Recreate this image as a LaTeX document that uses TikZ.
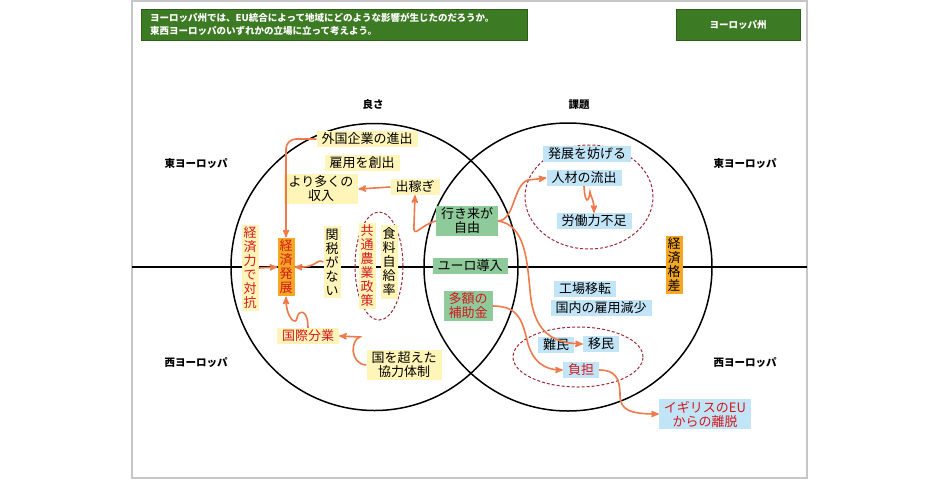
\documentclass[tikz,border=0pt]{standalone}
\usepackage{fontspec}
\setmainfont{Noto Sans CJK JP}
\usetikzlibrary{shapes}
\usetikzlibrary{arrows}
\definecolor{hdgreen}{HTML}{3C7A23}
\definecolor{hdedge}{HTML}{2C5E18}
\definecolor{fyel}{HTML}{FFF5B8}
\definecolor{fblu}{HTML}{C2E4F7}
\definecolor{fgrn}{HTML}{8FCA9B}
\definecolor{fora}{HTML}{F5A623}
\definecolor{tred}{HTML}{D2191E}
\definecolor{aora}{HTML}{EE7A4C}
\definecolor{dred}{HTML}{9E2A35}
\tikzset{
	box/.style = {align=center, inner xsep=5pt, inner ysep=2pt,
		font=\fontsize{13}{14}\selectfont},
	box_y/.style = {box, fill=fyel},% jaune, bons cotes
	box_b/.style = {box, fill=fblu},% bleu, problemes
	box_g/.style = {box, fill=fgrn},% vert, commun
	box_o/.style = {box, fill=fora},% orange
	box_v/.style = {inner xsep=2pt, inner ysep=2.5pt},% texte vertical
	txt_r/.style = {text=tred},
	lbl/.style = {font=\fontsize{10.5}{12}\selectfont\bfseries},
	hd/.style = {fill=hdgreen, draw=hdedge, text=white,
		font=\fontsize{9.5}{13}\selectfont\bfseries},
	arr_o/.style = {->, draw=aora, line width=1.6pt},
	dash_e/.style = {ellipse, draw=dred, densely dashed, line width=1pt,
		inner sep=0pt}
}
\begin{document}
\begin{tikzpicture}[>=stealth', x=1pt, y=-1pt]
	\useasboundingbox (0,0) rectangle (940,480);
	\draw[gray!45, line width=1.5pt] (132,1) rectangle (807,478);
	% en-tete
	\node[hd, anchor=north west, minimum width=386pt, minimum height=31pt,
		align=left, text width=368pt] (quest) at (141,9)
		{ヨーロッパ州では、EU統合によって地域にどのような影響が生じたのだろうか。\\
		東西ヨーロッパのいずれかの立場に立って考えよう。};
	\node[hd, minimum width=124pt, minimum height=31pt] (area) at (738,24.5) {ヨーロッパ州};
	% cercles
	\draw[line width=1.3pt] (132,267) -- (807,267);
	\node[circle, draw, line width=1.5pt, minimum size=287pt] (good) at (374.5,267) {};
	\node[circle, draw, line width=1.5pt, minimum size=288pt] (issue) at (568,267) {};
	\node[lbl] (l_good) at (373,105) {良さ};
	\node[lbl] (l_issue) at (579,105) {課題};
	\node[lbl] (e_left) at (196,164) {東ヨーロッパ};
	\node[lbl] (w_left) at (196,363) {西ヨーロッパ};
	\node[lbl] (e_right) at (745,164) {東ヨーロッパ};
	\node[lbl] (w_right) at (745,363) {西ヨーロッパ};
	\node[dash_e, minimum width=48pt, minimum height=108pt] (ring_a) at (379,266) {};
	\node[dash_e, minimum width=128pt, minimum height=104pt] (ring_b) at (589,197) {};
	\node[dash_e, minimum width=130pt, minimum height=60pt] (ring_c) at (578,357) {};
	% bons cotes
	\node[box_y] (gaikoku) at (367,139) {外国企業の進出};
	\node[box_y] (koyo) at (362,163) {雇用を創出};
	\node[box_y] (shunyu) at (321,189) {より多くの\\収入};
	\node[box_y] (dekasegi) at (415,187) {出稼ぎ};
	\node[box_y, box_v, txt_r] (taiko) at (250,268) {経\\済\\力\\で\\対\\抗};
	\node[box_o, box_v, txt_r] (hatten) at (286,267) {経\\済\\発\\展};
	\node[box_y, box_v] (kanzei) at (332,262) {関\\税\\が\\な\\い};
	\node[box_y, box_v, txt_r] (kyotsu) at (367,266) {共\\通\\農\\業\\政\\策};
	\node[box_y, box_v] (jikyu) at (389,262) {食\\料\\自\\給\\率};
	\node[box_y, txt_r] (kokusai) at (308,336) {国際分業};
	\node[box_y] (kokkyo) at (404,365) {国を超えた\\協力体制};
	% commun
	\node[box_g] (ikiki) at (467,221) {行き来が\\自由};
	\node[box_g] (euro) at (470,266) {ユーロ導入};
	\node[box_g, txt_r] (hojo) at (468,306) {多額の\\補助金};
	% problemes
	\node[box_b] (bougai) at (587,154) {発展を妨げる};
	\node[box_b] (jinzai) at (584,178) {人材の流出};
	\node[box_b] (rodo) at (594,221) {労働力不足};
	\node[box_b] (kojo) at (585,289) {工場移転};
	\node[box_b] (koyogen) at (601,308) {国内の雇用減少};
	\node[box_b] (nanmin) at (556,345) {難民};
	\node[box_b] (imin) at (601,344) {移民};
	\node[box_b, txt_r] (futan) at (581,370) {負担};
	\node[box_b, txt_r] (igirisu) at (705,414) {イギリスのEU\\からの離脱};
	\node[box_o, box_v] (kakusa) at (674,265) {経\\済\\格\\差};
	% fleches
	\draw[arr_o, rounded corners=10pt] (gaikoku.west) -| (hatten.north);
	\draw[arr_o] (dekasegi.west) -- (shunyu.east);
	\draw[arr_o] (taiko.east) -- (hatten.west);
	\draw[arr_o] (kanzei.west) .. controls (316,258) and (318,268) .. (hatten.east);
	\draw[arr_o] (kokusai.north) .. controls (308,308) and (298,310) .. (297,318)
		.. controls (296,326) and (286,318) .. (hatten.south);
	\draw[arr_o] (kokkyo.west) .. controls (350,364) and (350,340) .. (360,337) -- (kokusai.east);
	\draw[arr_o] (ikiki.west) .. controls (420,225) and (413,240) .. (414,225) -- (dekasegi.south);
	\draw[arr_o] (ikiki.east) .. controls (515,220) and (513,185) .. (528,180) -- (jinzai.west);
	\draw[arr_o] (ikiki.east) .. controls (525,225) and (527,260) .. (530,290)
		.. controls (533,330) and (550,343) .. (imin.west);
	\draw[arr_o] (jinzai.south) .. controls (585,205) and (589,202) .. (590,192)
		.. controls (592,200) and (594,200) .. (rodo.north);
	\draw[arr_o] (hojo.east) .. controls (518,306) and (522,320) .. (527,340)
		.. controls (532,362) and (545,370) .. (futan.west);
	\draw[arr_o] (futan.east) .. controls (615,370) and (620,378) .. (620,395)
		.. controls (620,410) and (630,414) .. (igirisu.west);
\end{tikzpicture}
\end{document}
